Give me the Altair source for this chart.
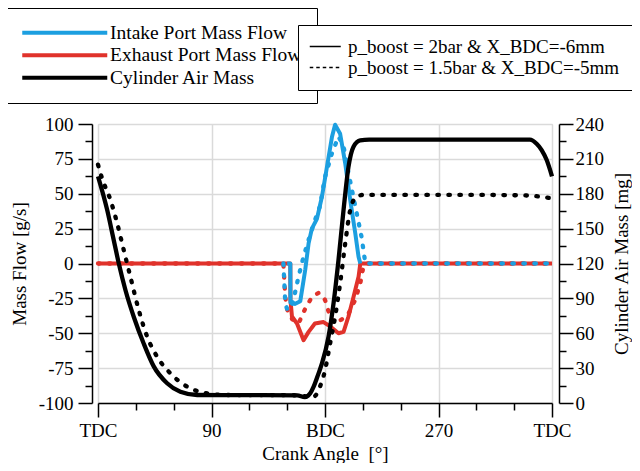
import altair as alt
import pandas as pd

FONT = "Liberation Serif"

SERIES = ["Intake Port Mass Flow", "Exhaust Port Mass Flow", "Cylinder Air Mass"]
SERIES_COLORS = ["#1c9fe0", "#e0322b", "#000000"]
CASES = ["p_boost = 2bar & X_BDC=-6mm", "p_boost = 1.5bar & X_BDC=-5mm"]

# x axis ticks (crank angle, deg) and their labels
X_TICKS = [0, 30, 60, 90, 120, 150, 180, 210, 240, 270, 300, 330, 360]
X_LABEL_VALUES = [0, 90, 180, 270, 360]
X_LABEL_TEXTS = ["TDC", "90", "BDC", "270", "TDC"]
Y_LEFT_TICKS = [-100, -87.5, -75, -62.5, -50, -37.5, -25, -12.5, 0,
                12.5, 25, 37.5, 50, 62.5, 75, 87.5, 100]
Y_RIGHT_TICKS = [0, 15, 30, 45, 60, 75, 90, 105, 120, 135, 150, 165,
                 180, 195, 210, 225, 240]

# Cylinder air mass [mg], case A (solid) and B (dotted)
ANGLE_CYL_A = [0, 7.3, 12.5, 16.5, 21.8, 28.4, 36.3, 44.2, 54.8, 65.3, 78.6, 100,
               130, 158, 164, 168.3, 171, 174.9, 177.6, 182.8, 186.8, 190.7, 194.7,
               198.6, 202.6, 207.9, 215, 250, 300, 342.5, 347.8, 351.8, 355.8, 360]
CYL_A = [195, 166, 140, 120, 97, 74, 51, 31.5, 17, 9.7, 6.9, 6.8,
         6.8, 6.5, 5, 8.3, 14, 25.5, 34, 57, 86, 123, 166,
         203, 220.5, 226, 226.5, 226.5, 226.5, 226.5, 223, 217.6, 209, 195]
ANGLE_CYL_B = [0, 3.3, 9.9, 15.2, 20.4, 25.7, 32.3, 39, 46.9, 57.4, 73.3, 86.5,
               100, 130, 160, 166, 171, 176, 180, 184, 188, 192, 196, 200, 205,
               210.5, 250, 300, 340, 350.5, 360]
CYL_B = [205, 193, 174.6, 154.6, 131.6, 108.6, 80, 57, 39.8, 25.5, 12.6, 8.3,
         6.9, 6.8, 6.6, 5.5, 5.4, 14, 28, 51, 74, 103, 137, 166, 177.5,
         179, 179, 179, 178.5, 177.5, 176]

# Intake port mass flow [g/s]
ANGLE_INT_A = [150, 152.5, 152.6, 156, 160.4, 164.3, 167, 169.6, 173.6, 177.6,
               181.5, 185.5, 188, 192, 196, 200, 204, 206.6, 208]
INT_A = [0, 0, -28, -29, -27, -4.7, 14.5, 25, 32, 48,
         69, 90.6, 99.5, 93, 72, 45.5, 21.7, 4.8, 0]
ANGLE_INT_B = [147, 148.5, 150, 153, 155, 159, 163, 167, 172, 176, 180, 185.5,
               190.7, 194.7, 198.6, 204, 209, 212, 360]
INT_B = [0, -28, -33, -32, -26, -9.5, 5, 17, 31, 41, 62, 79,
         91, 84, 65, 41, 19, 0, 0]

# Exhaust port mass flow [g/s]
ANGLE_EXH_A = [0, 152.5, 152.6, 153.8, 157.8, 163, 167, 172, 178.8, 184, 190.7,
               194.7, 198.6, 202.6, 206.6, 208, 360]
EXH_A = [0, 0, -26, -38, -43, -55, -49, -43, -42, -45, -50,
         -49, -38, -24, -9.5, 0, 0]
ANGLE_EXH_B = [0, 147, 148.5, 150, 154, 159, 164, 169.6, 175, 180, 184, 188,
               193.4, 198.6, 204, 208, 210.5, 212, 360]
EXH_B = [0, 0, -24, -33, -40, -43, -33, -24, -21, -26, -38, -43,
         -40, -36, -26, -14, -2, 0, 0]


def frame(angles, values, col, series, case):
    return pd.DataFrame({"angle": angles, col: values, "series": series, "case": case})


def cond(test, yes, no):
    return {"condition": {"test": test, "value": yes}, "value": no}


x_label_expr = ""
for v, t in zip(X_LABEL_VALUES, X_LABEL_TEXTS):
    x_label_expr += f"datum.value === {v} ? '{t}' : "
x_label_expr += "''"

common_axis = dict(
    tickSize=14, tickColor="black", tickWidth=1.5,
    domainColor="black", domainWidth=1.5,
    labelFont=FONT, labelFontSize=19, labelColor="black",
    labelFlush=False, labelOverlap=False,
    titleFont=FONT, titleFontWeight="normal", titleColor="black",
)

x_axis = alt.Axis(
    values=X_TICKS, labelExpr=x_label_expr, title="Crank Angle\u00a0 [°]",
    tickDash=cond("datum.value % 90 !== 0", [7, 30], [14, 0]),
    grid=True, gridColor="#dadada", gridWidth=1.5,
    gridOpacity=cond("datum.value % 90 !== 0", 0, 1),
    labelPadding=4, titlePadding=4, titleFontSize=19, **common_axis,
)
y_left_axis = alt.Axis(
    orient="left", offset=6, values=Y_LEFT_TICKS,
    labelExpr="datum.value % 25 === 0 ? toString(datum.value) : ''",
    tickDash=cond("datum.value % 25 !== 0", [7, 30], [14, 0]),
    grid=True, gridColor="#dadada", gridWidth=1.5,
    gridOpacity=cond("datum.value % 25 !== 0", 0, 1),
    labelPadding=5, title="Mass Flow [g/s]", titlePadding=9, titleFontSize=19,
    **common_axis,
)
y_right_axis = alt.Axis(
    orient="right", offset=7, values=Y_RIGHT_TICKS,
    labelExpr="datum.value % 30 === 0 ? toString(datum.value) : ''",
    tickDash=cond("datum.value % 30 !== 0", [7, 30], [14, 0]),
    grid=False, labelPadding=2, title="Cylinder Air Mass [mg]",
    titleAngle=270, titleBaseline="top", titlePadding=9, titleFontSize=19,
    **common_axis,
)

legend1 = alt.Legend(
    title=None, orient="none", legendX=-91, legendY=-116, direction="vertical",
    symbolType="M-8.5,0H8.5", symbolSize=100, symbolStrokeWidth=4, symbolOffset=33,
    labelOffset=35.5, labelFont=FONT, labelFontSize=19.5, labelColor="black", labelLimit=400,
    rowPadding=1.5, padding=15, strokeColor="black", fillColor="white",
)
legend2 = alt.Legend(
    title=None, orient="none", legendX=200, legendY=-99, direction="vertical",
    symbolType="M-3.1,0H3.1", symbolSize=100, symbolStrokeWidth=1.3, symbolOffset=5.75,
    symbolStrokeColor="black",
    labelOffset=13.25, labelFont=FONT, labelFontSize=19, labelColor="black", labelLimit=400,
    rowPadding=1, padding=12, strokeColor="black", fillColor="white",
)

color_scale = alt.Scale(domain=SERIES, range=SERIES_COLORS)


def x_enc():
    return alt.X("angle:Q", scale=alt.Scale(domain=[0, 360], nice=False, zero=False), axis=x_axis)


def y_left():
    return alt.Y("value:Q", scale=alt.Scale(domain=[-100, 100], nice=False, zero=False), axis=y_left_axis)


def y_right():
    return alt.Y("mass:Q", scale=alt.Scale(domain=[0, 240], nice=False, zero=False), axis=y_right_axis)


def col_enc():
    return alt.Color("series:N", scale=color_scale, legend=legend1)


DOT = dict(strokeDash=[1.5, 9.5], strokeCap="round", strokeJoin="round", strokeWidth=4.3)

exh_a = alt.Chart(frame(ANGLE_EXH_A, EXH_A, "value", SERIES[1], CASES[0])).mark_line(
    strokeWidth=4, strokeJoin="round").encode(x=x_enc(), y=y_left(), color=col_enc())
exh_b = alt.Chart(frame(ANGLE_EXH_B, EXH_B, "value", SERIES[1], CASES[1])).mark_line(
    **DOT).encode(x=x_enc(), y=y_left(), color=col_enc())
int_a = alt.Chart(frame(ANGLE_INT_A, INT_A, "value", SERIES[0], CASES[0])).mark_line(
    strokeWidth=4, strokeJoin="round").encode(x=x_enc(), y=y_left(), color=col_enc())
int_b = alt.Chart(frame(ANGLE_INT_B, INT_B, "value", SERIES[0], CASES[1])).mark_line(
    **DOT).encode(x=x_enc(), y=y_left(), color=col_enc())

cyl_a = alt.Chart(frame(ANGLE_CYL_A, CYL_A, "mass", SERIES[2], CASES[0])).mark_line(
    strokeWidth=4.3, strokeJoin="round", interpolate="monotone").encode(
    x=x_enc(), y=y_right(), color=col_enc())
cyl_b = alt.Chart(frame(ANGLE_CYL_B, CYL_B, "mass", SERIES[2], CASES[1])).mark_line(
    interpolate="monotone", **DOT).encode(x=x_enc(), y=y_right(), color=col_enc())

# legend for the two operating points (no drawn data)
case_legend = alt.Chart(frame(ANGLE_CYL_A, CYL_A, "mass", SERIES[2], CASES[0])).transform_filter(
    "datum.angle < 0").mark_line(color="black", strokeWidth=1.3).encode(
    x=x_enc(), y=y_right(),
    strokeDash=alt.StrokeDash("case:N", scale=alt.Scale(domain=CASES, range=[[1, 0], [3.5, 3]]),
                              legend=legend2),
)

left = alt.layer(exh_a, exh_b, int_a, int_b)
right = alt.layer(cyl_a, cyl_b, case_legend)

chart = alt.layer(left, right).resolve_scale(y="independent").properties(
    width=454, height=279, autosize="none",
    padding={"left": 90, "top": 116, "right": 80, "bottom": 60},
    background="white",
).configure_view(stroke="black", strokeWidth=1.5).configure(font=FONT)

chart.save("out.html", embed_options={"renderer": "svg", "actions": False})
